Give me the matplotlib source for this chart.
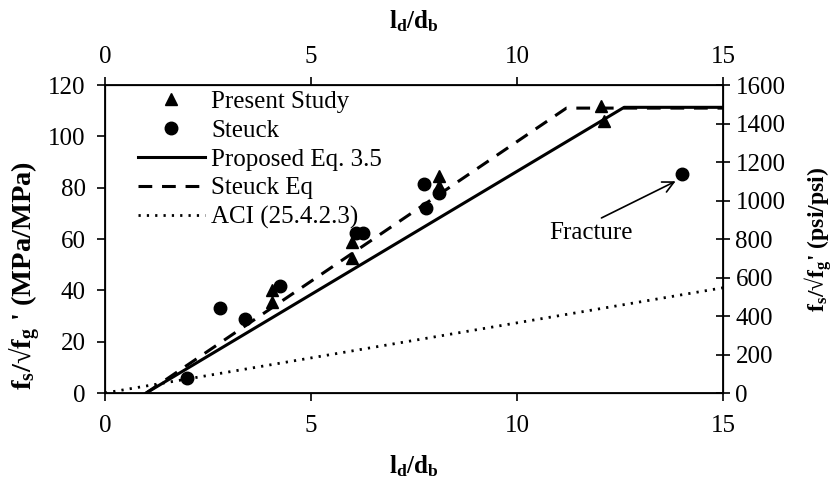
import matplotlib
matplotlib.use("Agg")
import matplotlib.pyplot as plt

plt.rcParams['font.family'] = ['Liberation Serif', 'DejaVu Serif']
plt.rcParams['mathtext.fontset'] = 'custom'
plt.rcParams['mathtext.rm'] = 'Liberation Serif'
plt.rcParams['mathtext.it'] = 'Liberation Serif'
plt.rcParams['mathtext.bf'] = 'Liberation Serif:bold'

# Test results (l_d/d_b, f_s/sqrt(f_g'))
present_x = [4.05, 4.05, 6.0, 6.0, 8.1, 8.1, 12.05, 12.1]
present_y = [40.0, 35.5, 59.0, 52.5, 84.5, 80.5, 112.0, 106.0]

steuck_x = [2.0, 2.8, 3.4, 4.25, 6.1, 6.25, 7.75, 7.8, 8.1, 14.0]
steuck_y = [6.0, 33.0, 29.0, 41.5, 62.5, 62.5, 81.5, 72.0, 78.0, 85.5]

# Design equations
proposed_x = [1.0, 12.6, 15.0]
proposed_y = [0.0, 111.3, 111.3]

steuck_eq_x = [1.0, 11.2, 15.0]
steuck_eq_y = [0.0, 111.0, 111.0]

aci_x = [0.0, 15.0]
aci_y = [0.0, 41.0]

x_ticks = [0, 5, 10, 15]
y_ticks = [0, 20, 40, 60, 80, 100, 120]
psi_ticks = [0, 200, 400, 600, 800, 1000, 1200, 1400, 1600]

FS = 18

fig = plt.figure(figsize=(8.35, 4.78), dpi=100)
ax = fig.add_axes([105/835, 1 - 393/478, (723 - 105)/835, (393 - 85)/478])

ax.plot(present_x, present_y, linestyle='none', marker='^', color='black',
        markersize=8.5, label='Present Study', zorder=5)
ax.plot(steuck_x, steuck_y, linestyle='none', marker='o', color='black',
        markersize=9, label='Steuck', zorder=5)
ax.plot(steuck_eq_x, steuck_eq_y, color='black', linewidth=2.2,
        linestyle=(0, (4.5, 3.2)), label='Steuck Eq', zorder=3)
ax.plot(proposed_x, proposed_y, color='black', linewidth=2.2,
        label='Proposed Eq. 3.5', zorder=4)
ax.plot(aci_x, aci_y, color='black', linewidth=2.0,
        linestyle=(0, (0.8, 2.2)), label='ACI (25.4.2.3)', zorder=3)

ax.set_xlim(0, 15)
ax.set_ylim(0, 120)
ax.set_xticks(x_ticks)
ax.set_yticks(y_ticks)
ax.tick_params(axis='both', labelsize=FS, direction='out', length=6, width=1.2)
ax.tick_params(axis='x', pad=10)
ax.tick_params(axis='y', pad=8)
for s in ax.spines.values():
    s.set_linewidth(1.3)

ax.set_xlabel(r'$\mathbf{l_d/d_b}$', fontsize=FS, labelpad=12)
ax.set_ylabel(r"$\mathbf{f_s}$/√$\mathbf{f_g}$ ' (MPa/MPa)", fontsize=20.5,
              fontweight='bold')
ax.yaxis.set_label_coords(-0.100, 0.38)

# top axis
axt = ax.twiny()
axt.set_xlim(0, 15)
axt.set_xticks(x_ticks)
axt.tick_params(axis='x', labelsize=FS, direction='out', length=6, width=1.2, pad=6)
axt.set_xlabel(r'$\mathbf{l_d/d_b}$', fontsize=FS, labelpad=13)

# right axis in psi
axr = ax.twinx()
axr.set_ylim(0, 1600)
axr.set_yticks(psi_ticks)
axr.tick_params(axis='y', labelsize=FS, direction='inout', length=10, width=1.2, pad=4)
axr.set_ylabel(r"$\mathbf{f_s}$/√$\mathbf{f_g}$' (psi/psi)", fontsize=17,
               fontweight='bold')
axr.yaxis.set_label_coords(1.128, 0.497)

handles, labels = ax.get_legend_handles_labels()
order = ['Present Study', 'Steuck', 'Proposed Eq. 3.5', 'Steuck Eq', 'ACI (25.4.2.3)']
hmap = dict(zip(labels, handles))
ax.legend([hmap[k] for k in order], order, loc='upper left',
          bbox_to_anchor=(30/618, 0.99), frameon=False, fontsize=FS,
          handlelength=2.7, handletextpad=0.25, labelspacing=0.25,
          borderaxespad=0.1, borderpad=0.0)

ax.text(11.8, 62.5, 'Fracture', fontsize=FS, ha='center', va='center')
ax.annotate('', xy=(13.85, 82.5), xytext=(12.05, 68.2),
            arrowprops=dict(arrowstyle='->', color='black', lw=1.2,
                            shrinkA=0, shrinkB=0, mutation_scale=20))

fig.savefig('out.png', dpi=100)
